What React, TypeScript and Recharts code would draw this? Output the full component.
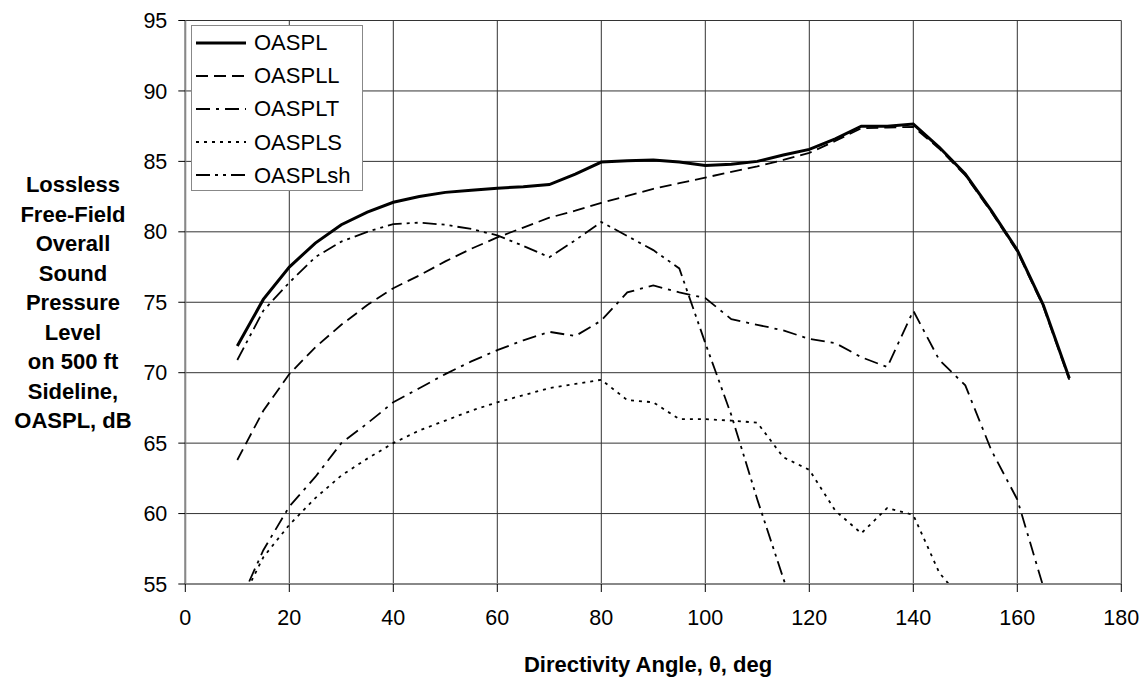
import { LineChart, Line, XAxis, YAxis, CartesianGrid } from 'recharts';

const angles = [10, 15, 20, 25, 30, 35, 40, 45, 50, 55, 60, 65, 70, 75, 80, 85, 90, 95, 100, 105, 110, 115, 120, 125, 130, 135, 140, 145, 150, 155, 160, 165, 170];

const oaspl = [71.9, 75.2, 77.5, 79.2, 80.5, 81.4, 82.1, 82.5, 82.8, 82.95, 83.1, 83.2, 83.35, 84.1, 84.95, 85.05, 85.1, 84.95, 84.7, 84.8, 85.0, 85.45, 85.85, 86.6, 87.5, 87.5, 87.65, 86.0, 84.1, 81.5, 78.7, 74.8, 69.6];
const oaspll = [63.8, 67.3, 69.9, 71.8, 73.4, 74.8, 76.0, 76.9, 77.9, 78.8, 79.6, 80.3, 81.0, 81.5, 82.05, 82.55, 83.05, 83.45, 83.85, 84.25, 84.65, 85.1, 85.6, 86.45, 87.35, 87.4, 87.45, 85.9, 84.0, 81.4, 78.6, 74.7, 69.5];
const oasplt = [53.3, 57.4, 60.5, 62.6, 65.0, 66.4, 67.9, 68.9, 69.9, 70.8, 71.6, 72.3, 72.9, 72.6, 73.7, 75.7, 76.2, 75.7, 75.3, 73.8, 73.4, 73.0, 72.4, 72.1, 71.1, 70.4, 74.4, 70.9, 69.1, 64.5, 61.0, 54.8, 48.0];
const oaspls = [53.2, 56.9, 59.2, 61.1, 62.7, 63.9, 65.0, 65.9, 66.6, 67.3, 67.9, 68.4, 68.9, 69.2, 69.5, 68.05, 67.9, 66.7, 66.7, 66.6, 66.45, 64.0, 63.1, 60.2, 58.6, 60.4, 59.9, 55.8, 53.6, null, null, null, null];
const oasplsh = [70.9, 74.4, 76.4, 78.2, 79.3, 80.0, 80.55, 80.65, 80.5, 80.2, 79.75, 79.0, 78.2, 79.4, 80.7, 79.7, 78.7, 77.4, 72.1, 67.0, 61.0, 55.4, 50.0, null, null, null, null, null, null, null, null, null, null];

const xTicks = [0, 20, 40, 60, 80, 100, 120, 140, 160, 180];
const yTicks = [55, 60, 65, 70, 75, 80, 85, 90, 95];

const data = angles.map((a, i) => ({
  angle: a,
  OASPL: oaspl[i],
  OASPLL: oaspll[i],
  OASPLT: oasplt[i],
  OASPLS: oaspls[i],
  OASPLsh: oasplsh[i],
}));

const series = [
  { key: 'OASPL', width: 3, dash: undefined as string | undefined },
  { key: 'OASPLL', width: 1.8, dash: '12 6' },
  { key: 'OASPLT', width: 1.8, dash: '14 6 3 6' },
  { key: 'OASPLS', width: 1.8, dash: '3 5' },
  { key: 'OASPLsh', width: 1.8, dash: '14 5 3 5 3 5' },
];

const font = '"Liberation Sans", Arial, sans-serif';
const tickStyle = { fontFamily: font, fontSize: 21.5, fill: '#000' };

export default function App() {
  return (
    <div style={{ position: 'relative', width: 1144, height: 681, fontFamily: font, background: '#fff', overflow: 'hidden' }}>
      <style>{'body { margin: 0; }'}</style>
      <LineChart width={1144} height={681} data={data} margin={{ top: 20.5, right: 22.7, left: 0, bottom: 0 }}>
        <CartesianGrid stroke="#333" strokeWidth={1} verticalValues={xTicks} horizontalValues={yTicks} />
        <XAxis
          dataKey="angle"
          type="number"
          domain={[0, 180]}
          ticks={xTicks}
          height={97}
          tickSize={8}
          tickMargin={18}
          tick={tickStyle}
          axisLine={{ stroke: '#888', strokeWidth: 2 }}
          tickLine={{ stroke: '#000' }}
        />
        <YAxis
          type="number"
          domain={[55, 95]}
          ticks={yTicks}
          allowDataOverflow
          width={185.3}
          tickSize={7}
          tickMargin={11}
          tick={tickStyle}
          axisLine={{ stroke: '#888', strokeWidth: 2 }}
          tickLine={{ stroke: '#000' }}
        />
        {series.map((s) => (
          <Line
            key={s.key}
            dataKey={s.key}
            type="linear"
            stroke="#000"
            strokeWidth={s.width}
            strokeDasharray={s.dash}
            dot={false}
            activeDot={false}
            isAnimationActive={false}
            connectNulls={false}
          />
        ))}
      </LineChart>

      {/* y axis title */}
      <div
        style={{
          position: 'absolute',
          left: 8,
          top: 170,
          width: 130,
          textAlign: 'center',
          fontWeight: 'bold',
          fontSize: 22,
          lineHeight: '29.5px',
        }}
      >
        Lossless<br />Free-Field<br />Overall<br />Sound<br />Pressure<br />Level<br />on 500 ft<br />Sideline,<br />OASPL, dB
      </div>

      {/* x axis title */}
      <div
        style={{
          position: 'absolute',
          left: 448,
          top: 652,
          width: 400,
          textAlign: 'center',
          fontWeight: 'bold',
          fontSize: 22,
          lineHeight: '26px',
        }}
      >
        Directivity Angle, θ, deg
      </div>

      {/* legend */}
      <div
        style={{
          position: 'absolute',
          left: 191,
          top: 25,
          width: 172,
          height: 166,
          boxSizing: 'border-box',
          border: '1px solid #888',
          background: '#fff',
        }}
      >
        {series.map((s) => (
          <div key={s.key} style={{ display: 'flex', alignItems: 'center', height: 33.2 }}>
            <svg width={50} height={10} style={{ marginLeft: 4, marginRight: 8 }}>
              <line x1={0} y1={5} x2={50} y2={5} stroke="#000" strokeWidth={s.width} strokeDasharray={s.dash} />
            </svg>
            <span style={{ fontSize: 22, lineHeight: '33px' }}>{s.key}</span>
          </div>
        ))}
      </div>
    </div>
  );
}
